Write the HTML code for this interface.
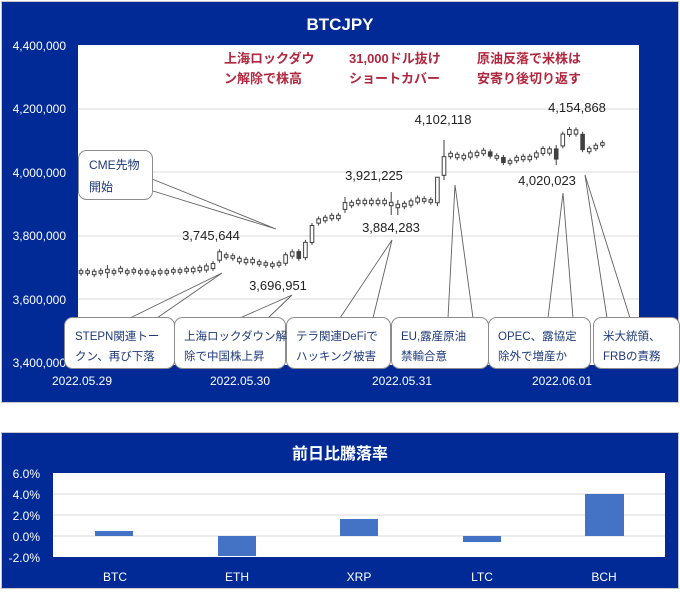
<!DOCTYPE html>
<html><head><meta charset="utf-8"><style>
body{margin:0;background:#fff;}
svg text{font-family:"Liberation Sans","Noto Sans CJK JP",sans-serif;}
</style></head><body>
<svg id="s" width="680" height="590" viewBox="0 0 680 590" xmlns="http://www.w3.org/2000/svg">
<rect x="0" y="0" width="680" height="590" fill="#fff"/>
<rect x="1.5" y="1.5" width="677" height="401" fill="#012a97" stroke="#c8c8c8"/>
<rect x="78" y="45" width="561" height="320" fill="#fff"/>
<g stroke="#d9d9d9" stroke-width="1">
<line x1="78" y1="109" x2="639" y2="109"/><line x1="78" y1="172" x2="639" y2="172"/>
<line x1="78" y1="236" x2="639" y2="236"/><line x1="78" y1="299" x2="639" y2="299"/>
</g>
<text x="340" y="30" fill="#fff" font-size="17" font-weight="bold" text-anchor="middle">BTCJPY</text>
<g fill="#fff" font-size="12" text-anchor="end">
<text x="66" y="50">4,400,000</text><text x="66" y="113">4,200,000</text>
<text x="66" y="177">4,000,000</text><text x="66" y="240">3,800,000</text>
<text x="66" y="304">3,600,000</text><text x="66" y="367">3,400,000</text>
</g>
<g fill="#fff" font-size="12" text-anchor="middle">
<text x="82" y="385">2022.05.29</text><text x="240" y="385">2022.05.30</text>
<text x="402" y="385">2022.05.31</text><text x="562" y="385">2022.06.01</text>
</g>
<g id="candles" stroke="#404040" stroke-width="1"></g>
<g fill="#b0283f" font-size="13" font-weight="bold">
<text x="224" y="63">上海ロックダウ</text><text x="224" y="83">ン解除で株高</text>
<text x="349" y="63">31,000ドル抜け</text><text x="349" y="83">ショートカバー</text>
<text x="477" y="63">原油反落で米株は</text><text x="477" y="83">安寄り後切り返す</text>
</g>
<g fill="#222" font-size="13" text-anchor="middle">
<text x="443" y="124">4,102,118</text><text x="577" y="112">4,154,868</text>
<text x="547" y="185">4,020,023</text><text x="374" y="180">3,921,225</text>
<text x="391" y="232">3,884,283</text><text x="211" y="240">3,745,644</text>
<text x="278" y="290">3,696,951</text>
</g>
<g fill="none" stroke="#606060" stroke-width="0.9">
<polyline points="152,179 276,229 153,191"/>
<polyline points="130,318 222,273 157,318"/>
<polyline points="240,318 292,295 268,318"/>
<polyline points="340,318 392,240 373,318"/>
<polyline points="448,318 455,185 473,318"/>
<polyline points="548,318 563,193 573,318"/>
<polyline points="607,318 585,175 630,318"/>
</g>
<g fill="#fff" stroke="#8c8c8c" stroke-width="1">
<rect x="78.5" y="150.5" width="74" height="49" rx="8"/>
<rect x="64.5" y="317.5" width="110" height="51" rx="8"/>
<rect x="174.5" y="317.5" width="111" height="51" rx="8"/>
<rect x="286.5" y="317.5" width="104" height="51" rx="8"/>
<rect x="391.5" y="317.5" width="97" height="51" rx="8"/>
<rect x="488.5" y="317.5" width="102" height="51" rx="8"/>
<rect x="593.5" y="317.5" width="86" height="51" rx="8"/>
</g>
<g fill="#1f3a7a" font-size="12">
<text x="89" y="169">CME先物</text><text x="89" y="191">開始</text>
</g>
<g fill="#1f3a7a" font-size="11.5">
<text x="75" y="340">STEPN関連トー</text><text x="75" y="360">クン、再び下落</text>
<text x="184" y="340">上海ロックダウン解</text><text x="184" y="360">除で中国株上昇</text>
<text x="296" y="340">テラ関連DeFiで</text><text x="296" y="360">ハッキング被害</text>
<text x="401" y="340">EU,露産原油</text><text x="401" y="360">禁輸合意</text>
<text x="498" y="340">OPEC、露協定</text><text x="498" y="360">除外で増産か</text>
<text x="603" y="340">米大統領、</text><text x="603" y="360">FRBの責務</text>
</g>
<!-- bottom chart -->
<rect x="1.5" y="432.5" width="677" height="156" fill="#012a97" stroke="#c8c8c8"/>
<rect x="53" y="473" width="612" height="84" fill="#fff"/>
<g stroke="#d9d9d9"><line x1="53" y1="494" x2="665" y2="494"/><line x1="53" y1="515" x2="665" y2="515"/><line x1="53" y1="536" x2="665" y2="536"/></g>
<text x="340" y="459" fill="#fff" font-size="16" font-weight="bold" text-anchor="middle">前日比騰落率</text>
<g fill="#fff" font-size="12" text-anchor="end">
<text x="40" y="478">6.0%</text><text x="40" y="499">4.0%</text><text x="40" y="520">2.0%</text>
<text x="40" y="541">0.0%</text><text x="40" y="562">-2.0%</text>
</g>
<g fill="#4472c4">
<rect x="95" y="531" width="38" height="5"/><rect x="218" y="536" width="38" height="20"/>
<rect x="340" y="519" width="38" height="17"/><rect x="463" y="536" width="38" height="6"/>
<rect x="585" y="494" width="39" height="42"/>
</g>
<g fill="#fff" font-size="12" text-anchor="middle">
<text x="115" y="581">BTC</text><text x="237" y="581">ETH</text><text x="359" y="581">XRP</text>
<text x="482" y="581">LTC</text><text x="604" y="581">BCH</text>
</g>
</svg>
<script>
var d=[[272,3],[272,3],[273,4],[272,3],[271,4,265,278],[272,3],[270,4],[272,3],[271,3],[272,3],[272,3],[273,3],[272,3],[272,3],[271,3],[271,3],[270,3],[270,4],[269,4],[268,5],[266,6],
[256,10],[256,3],[257,3],[260,4],[261,4],[261,4],[263,3],[264,3],[265,3],[264,3],[259,10],[254,5],[255,8,0,0,1],[250,18],[234,20],
[221,5],[219,4],[217,4],[217,4],[206,8,197,213],[204,4],[202,4],[202,4],[202,4],[202,4],[202,4],[204,4,192,215],[206,4,200,215],[205,4],[203,5],[200,5],[200,3],[201,3],
[190,30,186,206],[166,22,140,180],[155,4],[156,4],[157,4],[155,5],[154,4],[152,4],[154,5,0,0,1],[157,3],[160,6,0,0,1],[162,3],[159,4],[158,4],[158,4],[155,5],[151,6],[151,5],
[154,12,145,165,1],[140,14],[132,6],[132,5],[142,18,0,0,1],[150,4],[147,4],[144,3]];
var g=document.getElementById('candles'),s='';
d.forEach(function(c,i){var x=81+6.6*i,h=Math.max(2,c[1]*0.85),t=c[0]-h/2,wt=c[2]||t-2.5,wb=c[3]||t+h+2.5,f=c[4]?'#404040':'#fff';
s+='<line x1="'+x+'" y1="'+wt+'" x2="'+x+'" y2="'+wb+'"/><rect x="'+(x-1.8)+'" y="'+t+'" width="3.6" height="'+h+'" fill="'+f+'"/>';});
g.innerHTML=s;
</script>
</body></html>
